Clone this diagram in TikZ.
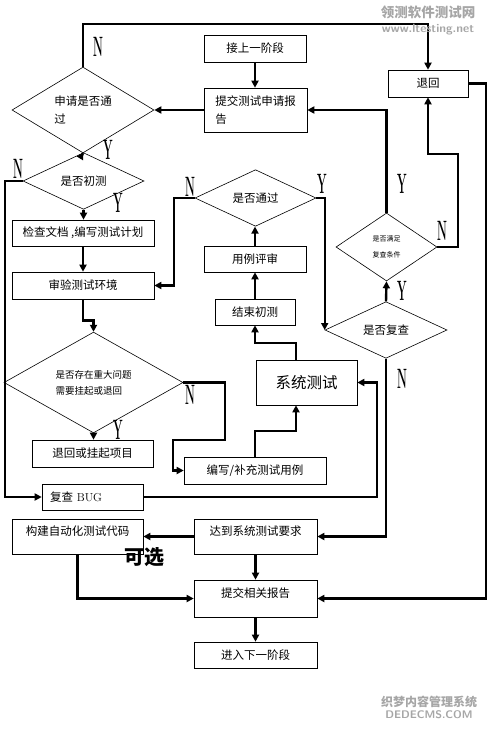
\documentclass[tikz,border=0pt]{standalone}
\usepackage{fontspec}
\usepackage{graphicx}
\usetikzlibrary{shapes.geometric,arrows.meta}
\newfontfamily\cjk{Noto Sans CJK SC}
\newcommand{\yn}[1]{\scalebox{0.4}[1]{#1}}

\begin{document}
\begin{tikzpicture}[x=1pt,y=-1pt,
  box/.style={draw, line width=0.6pt, inner sep=0pt, font=\cjk\fontsize{11.5}{18}\selectfont},
  dec/.style={draw, diamond, line width=0.6pt, inner sep=0pt, font=\cjk\fontsize{11.5}{18}\selectfont},
  toptext/.style={text height=8pt, text depth=10pt},
  conn/.style={line width=2.4pt, -{Triangle[length=7pt,width=7pt]}},
  yes/.style={inner sep=0pt, font=\bfseries\fontsize{28}{28}\selectfont},
  wm/.style={inner sep=0pt, text=gray!70}]
\useasboundingbox (0,0) rectangle (489,730);
%
\node[box, minimum width=102pt, minimum height=27pt] (jieshang) at (255,48.5) {接上一阶段};
\node[box, minimum width=103pt, minimum height=44pt, align=left] (tijiao) at (255.5,110) {提交测试申请报\\告};
\node[box, minimum width=80pt, minimum height=27pt] (tuihui) at (428,83.5) {退回};
\node[dec, minimum width=142pt, minimum height=78pt, align=left] (shenqing) at (83,110) {申请是否通\\过};
\node[dec, minimum width=121pt, minimum height=43pt] (chuce) at (83.5,181) {是否初测};
\node[box, minimum width=142pt, minimum height=26pt] (jiancha) at (83,233) {检查文档 ,编写测试计划};
\node[box, minimum width=142pt, minimum height=27pt] (shenyan) at (83,285.5) {审验测试环境};
\node[dec, minimum width=179pt, minimum height=79pt, align=left, font=\cjk\fontsize{9.5}{16}\selectfont] (wenti) at (93.5,382.5) {是否存在重大问题\\需要挂起或退回};
\node[box, minimum width=121pt, minimum height=27pt] (guaqi) at (92.5,453.5) {退回或挂起项目};
\node[box, minimum width=142pt, minimum height=27pt] (bianxie) at (255,470.5) {编写/补充测试用例};
\node[box, minimum width=101pt, minimum height=45pt, font=\cjk\fontsize{15.5}{18}\selectfont] (xitong) at (306.5,382.5) {系统测试};
\node[box, minimum width=80pt, minimum height=26pt] (jieshu) at (255,312) {结束初测};
\node[box, minimum width=102pt, minimum height=26pt] (pingshen) at (255,259) {用例评审};
\node[dec, minimum width=121pt, minimum height=44pt] (tongguo) at (255.5,198) {是否通过};
\node[dec, minimum width=122pt, minimum height=42pt] (fucha) at (386,330) {是否复查};
\node[dec, minimum width=101pt, minimum height=68pt, align=left, font=\cjk\fontsize{7}{16}\selectfont] (manzu) at (386.5,247) {是否满足\\复查条件};
\node[box, minimum width=101pt, minimum height=26pt, text width=85pt, align=left] (fuchabug) at (92.5,497) {复查 {\rmfamily BUG}};
\node[box, toptext, minimum width=123pt, minimum height=35pt] (dadao) at (255.5,536.5) {达到系统测试要求};
\node[box, toptext, minimum width=131pt, minimum height=35pt] (goujian) at (77.5,536.5) {构建自动化测试代码};
\node[box, toptext, minimum width=123pt, minimum height=37pt] (tijiaoxg) at (255.5,598.5) {提交相关报告};
\node[box, minimum width=123pt, minimum height=26pt] (jinru) at (255.5,655) {进入下一阶段};
%
\coordinate (topline) at (250,24);
\coordinate (rightline) at (486,300);
\coordinate (leftline) at (5,300);
\coordinate (wentibend) at (225,440);
\coordinate (bianxiein) at (173,470.5);
\coordinate (bugline) at (377,440);
\coordinate (manzubend) at (458,154);
%
\draw[conn] (jieshang.south) -- (jieshang.south |- tijiao.north);
\draw[conn] (tijiao.west) -- (shenqing.east);
\draw[conn] (shenqing.north) |- (topline) -| (tuihui.north);
\draw[conn] (tuihui.east) -| (rightline) |- (tijiaoxg.east);
\draw[conn] (shenqing.south) -- (chuce.north);
\draw[conn] (chuce.west) -| (leftline) |- (fuchabug.west);
\draw[conn] (chuce.south) -- (chuce.south |- jiancha.north);
\draw[conn] (jiancha.south) -- (shenyan.north);
\draw[conn] (shenyan.south) -- ++(0,21) -| (wenti.north);
\draw[conn] (wenti.south) -- (wenti.south |- guaqi.north);
\draw[conn] (wenti.east) -| (wentibend) -| (bianxiein) -- (bianxie.west);
\draw[conn] (bianxie.north) -- ++(0,-26) -| ([xshift=-10.5pt]xitong.south);
\draw[conn] ([xshift=-10.5pt]xitong.north) -- ++(0,-17) -| (jieshu.south);
\draw[conn] (jieshu.north) -- (pingshen.south);
\draw[conn] (pingshen.north) -- (pingshen.north |- tongguo.south);
\draw[conn] (tongguo.west) -- ++(-21,0) |- (shenyan.east);
\draw[conn] (tongguo.east) -| (fucha.west);
\draw[conn] (fucha.north) -- (manzu.south);
\draw[conn] (manzu.north) |- (tijiao.east);
\draw[conn] (manzu.east) -| (manzubend) -| (tuihui.south);
\draw[conn] (fucha.south) |- (dadao.east);
\draw[conn] (fuchabug.east) -| (bugline) |- (xitong.east);
\draw[conn] (dadao.west) -- (goujian.east);
\draw[conn] (goujian.south) |- (tijiaoxg.west);
\draw[conn] (dadao.south) -- (tijiaoxg.north);
\draw[conn] (tijiaoxg.south) -- (jinru.north);
%
\node[yes] (n1) at (98,47) {\yn{N}};
\node[yes] (y1) at (108,150) {\yn{Y}};
\node[yes] (n2) at (18,169) {\yn{N}};
\node[yes] (y2) at (118,203) {\yn{Y}};
\node[yes] (n3) at (190,187) {\yn{N}};
\node[yes] (y3) at (322,184) {\yn{Y}};
\node[yes] (y4) at (402,184) {\yn{Y}};
\node[yes] (n4) at (442,231) {\yn{N}};
\node[yes] (y5) at (402,291) {\yn{Y}};
\node[yes] (n5) at (402,379) {\yn{N}};
\node[yes] (n6) at (190,395) {\yn{N}};
\node[yes] (y6) at (118,430) {\yn{Y}};
\node[inner sep=0pt, font=\cjk\bfseries\fontsize{20}{20}\selectfont] (kexuan) at (144,557) {可选};
%
\node[wm, font=\cjk\bfseries\fontsize{13.5}{14}\selectfont] (wm1) at (428,12) {领测软件测试网};
\node[wm, font=\sffamily\bfseries\fontsize{12}{12}\selectfont] (wm2) at (428,30) {www.ltesting.net};
\node[wm, font=\cjk\bfseries\fontsize{12}{12}\selectfont] (wm3) at (429,702) {织梦内容管理系统};
\node[wm, font=\sffamily\bfseries\fontsize{11}{11}\selectfont] (wm4) at (429,715) {DEDECMS.COM};
\end{tikzpicture}
\end{document}
